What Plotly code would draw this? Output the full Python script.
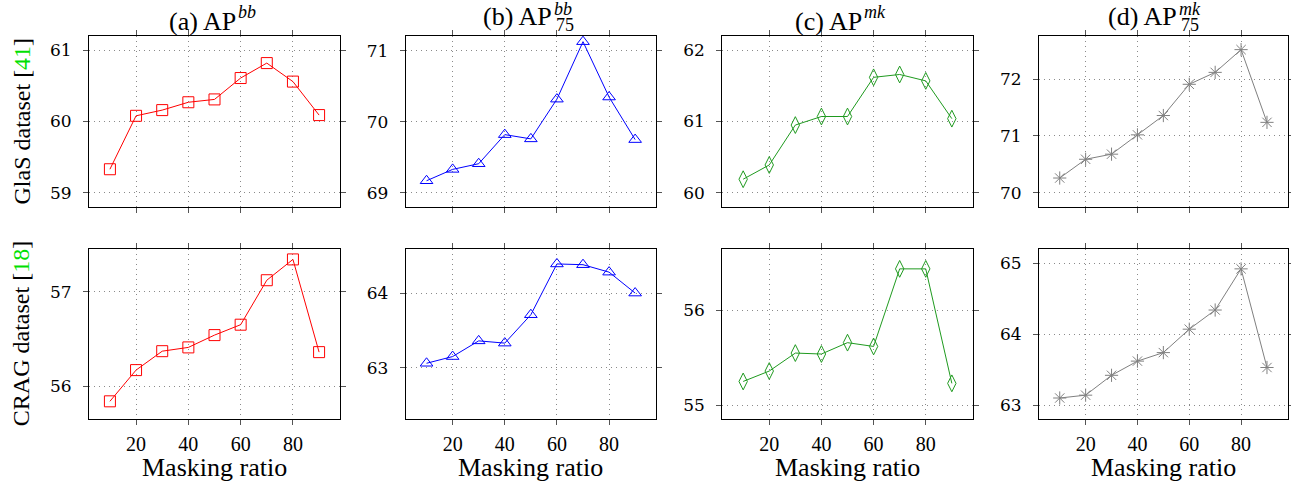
import plotly.graph_objects as go

# ---------------- data ----------------
masking_ratio = [10, 20, 30, 40, 50, 60, 70, 80, 90]

glas_ap_bb = [59.33, 60.08, 60.16, 60.27, 60.31, 60.61, 60.82, 60.56, 60.09]
glas_ap75_bb = [69.17, 69.33, 69.41, 69.82, 69.76, 70.32, 71.13, 70.35, 69.75]
glas_ap_mk = [60.19, 60.39, 60.95, 61.07, 61.07, 61.62, 61.66, 61.57, 61.04]
glas_ap75_mk = [70.26, 70.59, 70.68, 71.02, 71.36, 71.91, 72.12, 72.52, 71.24]

crag_ap_bb = [55.84, 56.17, 56.37, 56.41, 56.54, 56.65, 57.12, 57.34, 56.36]
crag_ap75_bb = [63.06, 63.15, 63.36, 63.33, 63.71, 64.39, 64.38, 64.28, 64.00]
crag_ap_mk = [55.25, 55.36, 55.55, 55.54, 55.66, 55.62, 56.44, 56.44, 55.23]
crag_ap75_mk = [63.10, 63.14, 63.42, 63.62, 63.74, 64.07, 64.34, 64.92, 63.53]

panel_letters = ["(a)", "(b)", "(c)", "(d)"]
panel_sup = ["bb", "bb", "mk", "mk"]
panel_sub = ["", "75", "", "75"]
row_labels = ["GlaS dataset", "CRAG dataset"]
row_refs = ["41", "18"]
x_title = "Masking ratio"
x_ticks = [20, 40, 60, 80]

series = [glas_ap_bb, glas_ap75_bb, glas_ap_mk, glas_ap75_mk,
          crag_ap_bb, crag_ap75_bb, crag_ap_mk, crag_ap75_mk]

# ---------------- style / layout ----------------
W, H = 1291, 482
FONT = "Liberation Serif"
colors = ["#ff0000", "#0000ff", "#1f9a1f", "#808080"]
symbols = ["square-open", "triangle-up-open", "diamond-tall-open", "asterisk-open"]
msizes = [11, 11, 12, 11]

col_px = [(89, 340), (405.7, 656), (722.3, 972.7), (1039, 1287.7)]
row_px = [(36, 207), (249, 419.3)]
y_ranges = [[58.8, 61.2], [68.8, 71.21], [59.8, 62.2], [69.75, 72.76],
            [55.65, 57.45], [62.31, 64.59], [54.85, 56.65], [62.8, 65.2]]
x_range = [2, 98]

fig = go.Figure()
layout = {}
for i, ys in enumerate(series):
    r, c = divmod(i, 4)
    n = "" if i == 0 else str(i + 1)
    fig.add_trace(go.Scatter(
        x=masking_ratio, y=ys, mode="lines+markers",
        xaxis="x" + n, yaxis="y" + n,
        line=dict(color=colors[c], width=1),
        marker=dict(symbol=symbols[c], size=msizes[c], color=colors[c],
                    line=dict(color=colors[c], width=1)),
        showlegend=False, cliponaxis=False, hoverinfo="skip"))
    x0, x1 = col_px[c]
    y0, y1 = row_px[r]
    common = dict(showline=True, linecolor="black", linewidth=1, mirror="ticks",
                  ticks="outside", ticklen=5, tickcolor="#555", tickwidth=1,
                  showgrid=True, gridcolor="#8a8a8a", griddash="1px,4px", gridwidth=1,
                  zeroline=False, automargin=False, fixedrange=True)
    layout["xaxis" + n] = dict(common, domain=[x0 / W, x1 / W], range=x_range,
                               tickvals=x_ticks, showticklabels=(r == 1),
                               anchor="y" + n, ticklabelstandoff=2,
                               tickfont=dict(family=FONT, size=20, color="black"))
    layout["yaxis" + n] = dict(common, domain=[1 - y1 / H, 1 - y0 / H],
                               range=y_ranges[i], dtick=1, tick0=0,
                               anchor="x" + n, ticklabelstandoff=8,
                               tickfont=dict(family="DejaVu Serif", size=17, color="black"))

annotations = []
ap_end_px = [237, 553, 863, 1178]
for c in range(4):
    stacked = panel_sub[c] != ""
    main_y = 17 if stacked else 22
    annotations.append(dict(text=f"{panel_letters[c]} AP", x=ap_end_px[c] / W, y=1 - main_y / H,
                            xref="paper", yref="paper", xanchor="right", yanchor="middle",
                            borderpad=0, showarrow=False,
                            font=dict(family=FONT, size=26, color="black")))
    annotations.append(dict(text=f"<i>{panel_sup[c]}</i>", x=ap_end_px[c] / W,
                            y=1 - (9 if stacked else 12) / H,
                            xref="paper", yref="paper", xanchor="left", yanchor="middle",
                            borderpad=0, showarrow=False,
                            font=dict(family=FONT, size=18, color="black")))
    if stacked:
        annotations.append(dict(text=panel_sub[c], x=(ap_end_px[c] + 2) / W, y=1 - 25 / H,
                                xref="paper", yref="paper", xanchor="left", yanchor="middle",
                                borderpad=0, showarrow=False,
                                font=dict(family=FONT, size=18, color="black")))
    cx = (col_px[c][0] + col_px[c][1]) / 2
    annotations.append(dict(text=x_title, x=cx / W, y=1 - 467 / H,
                            xref="paper", yref="paper", xanchor="center", yanchor="middle",
                            borderpad=0, showarrow=False,
                            font=dict(family=FONT, size=26, color="black")))
for r in range(2):
    cy = (row_px[r][0] + row_px[r][1]) / 2
    annotations.append(dict(
        text=f"{row_labels[r]} [<span style='color:#00e000'>{row_refs[r]}</span>]",
        x=21 / W, y=1 - cy / H, xref="paper", yref="paper",
        xanchor="center", yanchor="middle", textangle=-90, showarrow=False,
        borderpad=0, font=dict(family=FONT, size=24, color="black")))

fig.update_layout(width=W, height=H, margin=dict(l=0, r=0, t=0, b=0),
                  paper_bgcolor="white", plot_bgcolor="white", hovermode=False,
                  annotations=annotations, **layout)
fig.write_html("out.html", config={"displayModeBar": False, "staticPlot": True},
               post_script="document.body.style.margin='0';document.body.style.overflow='hidden';")
